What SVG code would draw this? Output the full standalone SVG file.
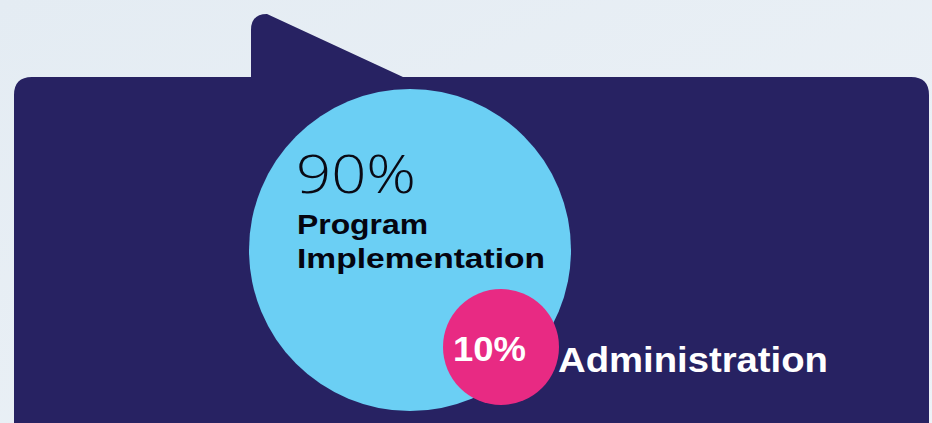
<svg xmlns="http://www.w3.org/2000/svg" width="932" height="423" viewBox="0 0 932 423">
<defs>
<linearGradient id="bg" x1="0" y1="0" x2="1" y2="1">
<stop offset="0" stop-color="#e4ecf3"/>
<stop offset="1" stop-color="#edf2f7"/>
</linearGradient>
</defs>
<style>
.navy{fill:#272262}
.big{font-family:"Open Sans","Liberation Sans",sans-serif;font-weight:300;font-size:54px;fill:#0a0a14}
.lbl{font-family:"Liberation Sans","Open Sans",sans-serif;font-weight:700;font-size:28px;fill:#050510}
.wt{font-family:"Liberation Sans","Open Sans",sans-serif;font-weight:700;fill:#ffffff}
</style>
<rect width="932" height="423" fill="url(#bg)"/>
<g id="bubble">
<path class="navy" d="M251,90 L251,30 Q251,14 267,14 L403,77 L911,77 Q929,77 929,95 L929,440 L14,440 L14,95 Q14,77 32,77 L251,77 Z"/>
</g>
<g id="program">
<circle cx="410" cy="250" r="161" fill="#6bcff4"/>
<text class="big" x="296" y="193" textLength="120" lengthAdjust="spacingAndGlyphs">90%</text>
<text class="lbl" x="297" y="234" textLength="131" lengthAdjust="spacingAndGlyphs">Program</text>
<text class="lbl" x="297" y="268" textLength="248" lengthAdjust="spacingAndGlyphs">Implementation</text>
</g>
<g id="admin">
<circle cx="501" cy="347" r="58" fill="#e82a83"/>
<text class="wt" x="453" y="361" font-size="35" textLength="73" lengthAdjust="spacingAndGlyphs">10%</text>
<text class="wt" x="558" y="372" font-size="35" textLength="270" lengthAdjust="spacingAndGlyphs">Administration</text>
</g>
<g id="connectors"/>
</svg>
